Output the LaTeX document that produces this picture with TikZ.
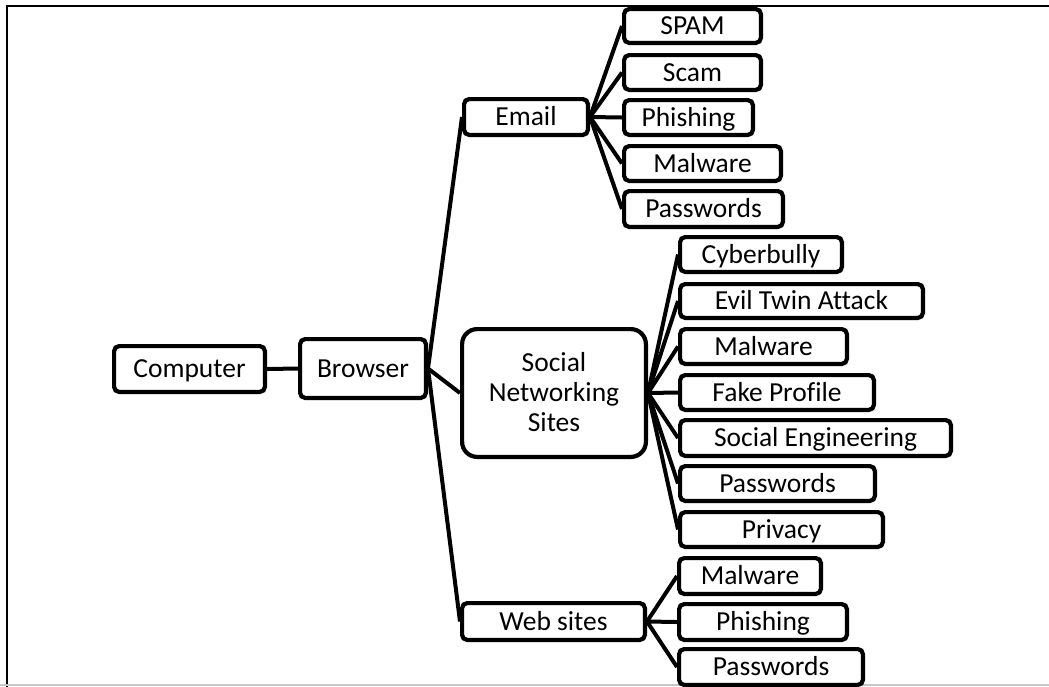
\documentclass[tikz,border=0pt]{standalone}
\usepackage{fontspec}
\setmainfont[Ligatures=NoCommon]{Carlito}
\begin{document}
\begin{tikzpicture}[x=1pt,y=-1pt,
  box/.style={draw, line width=4.2pt, rounded corners=5pt, inner sep=0pt,
    font=\fontsize{27.5}{30}\selectfont, text height=17.6pt, text depth=0pt,
    align=center},
  sz/.style 2 args={minimum width={#1pt-4.2pt}, minimum height={#2pt-4.2pt}},
  link/.style={line width=4pt},
  frame/.style={line width=2.2pt}]
  \useasboundingbox (0,0) rectangle (1049,686);
  \clip (0,0) rectangle (1049,686);

  % page frame
  \draw[frame] (7,690) -- (7,6) -- (1052,6);
  \draw[line width=1.5pt, black!22] (0,685.2) -- (1049,685.2);

  % root and browser
  \node[box, sz={155}{50}] (computer) at (189.5,369) {Computer};
  \node[box, sz={130}{63}] (browser) at (363,368.5) {Browser};

  % second level
  \node[box, sz={128}{40}] (email) at (526,117) {Email};
  \node[box, sz={188}{132}, rounded corners=15pt, text height=77.6pt] (sns)
    at (554,393) {Social\\Networking\\Sites};
  \node[box, sz={187}{41}] (web) at (553.5,621.5) {Web sites};

  % email threats
  \node[box, sz={141}{38}] (e1) at (692.5,26) {SPAM};
  \node[box, sz={141}{39}] (e2) at (692.5,72.5) {Scam};
  \node[box, sz={133}{39}] (e3) at (688.5,117.5) {Phishing};
  \node[box, sz={161}{39}] (e4) at (702.5,163.5) {Malware};
  \node[box, sz={163}{40}] (e5) at (703.5,209) {Passwords};

  % social networking threats
  \node[box, sz={166}{39}] (s1) at (761,254.5) {Cyberbully};
  \node[box, sz={247}{38}] (s2) at (801.5,301) {Evil Twin Attack};
  \node[box, sz={171}{39}] (s3) at (763.5,346.5) {Malware};
  \node[box, sz={198}{39}] (s4) at (777,392.5) {Fake Profile};
  \node[box, sz={275}{40}] (s5) at (815.5,438) {Social Engineering};
  \node[box, sz={199}{39}] (s6) at (777.5,483.5) {Passwords};
  \node[box, sz={207}{39}] (s7) at (781.5,529.5) {Privacy};

  % web site threats
  \node[box, sz={146}{40}] (w1) at (750,576) {Malware};
  \node[box, sz={172}{40}] (w2) at (763,622) {Phishing};
  \node[box, sz={188}{40}] (w3) at (771,667) {Passwords};

  % connectors
  \draw[link] (computer.east) -- (browser.west);
  \foreach \c in {email,sns,web}
    \draw[link] (browser.east) -- (\c.west);
  \foreach \c in {e1,e2,e3,e4,e5}
    \draw[link] (email.east) -- (\c.west);
  \foreach \c in {s1,s2,s3,s4,s5,s6,s7}
    \draw[link] (sns.east) -- (\c.west);
  \foreach \c in {w1,w2,w3}
    \draw[link] (web.east) -- (\c.west);
\end{tikzpicture}
\end{document}
